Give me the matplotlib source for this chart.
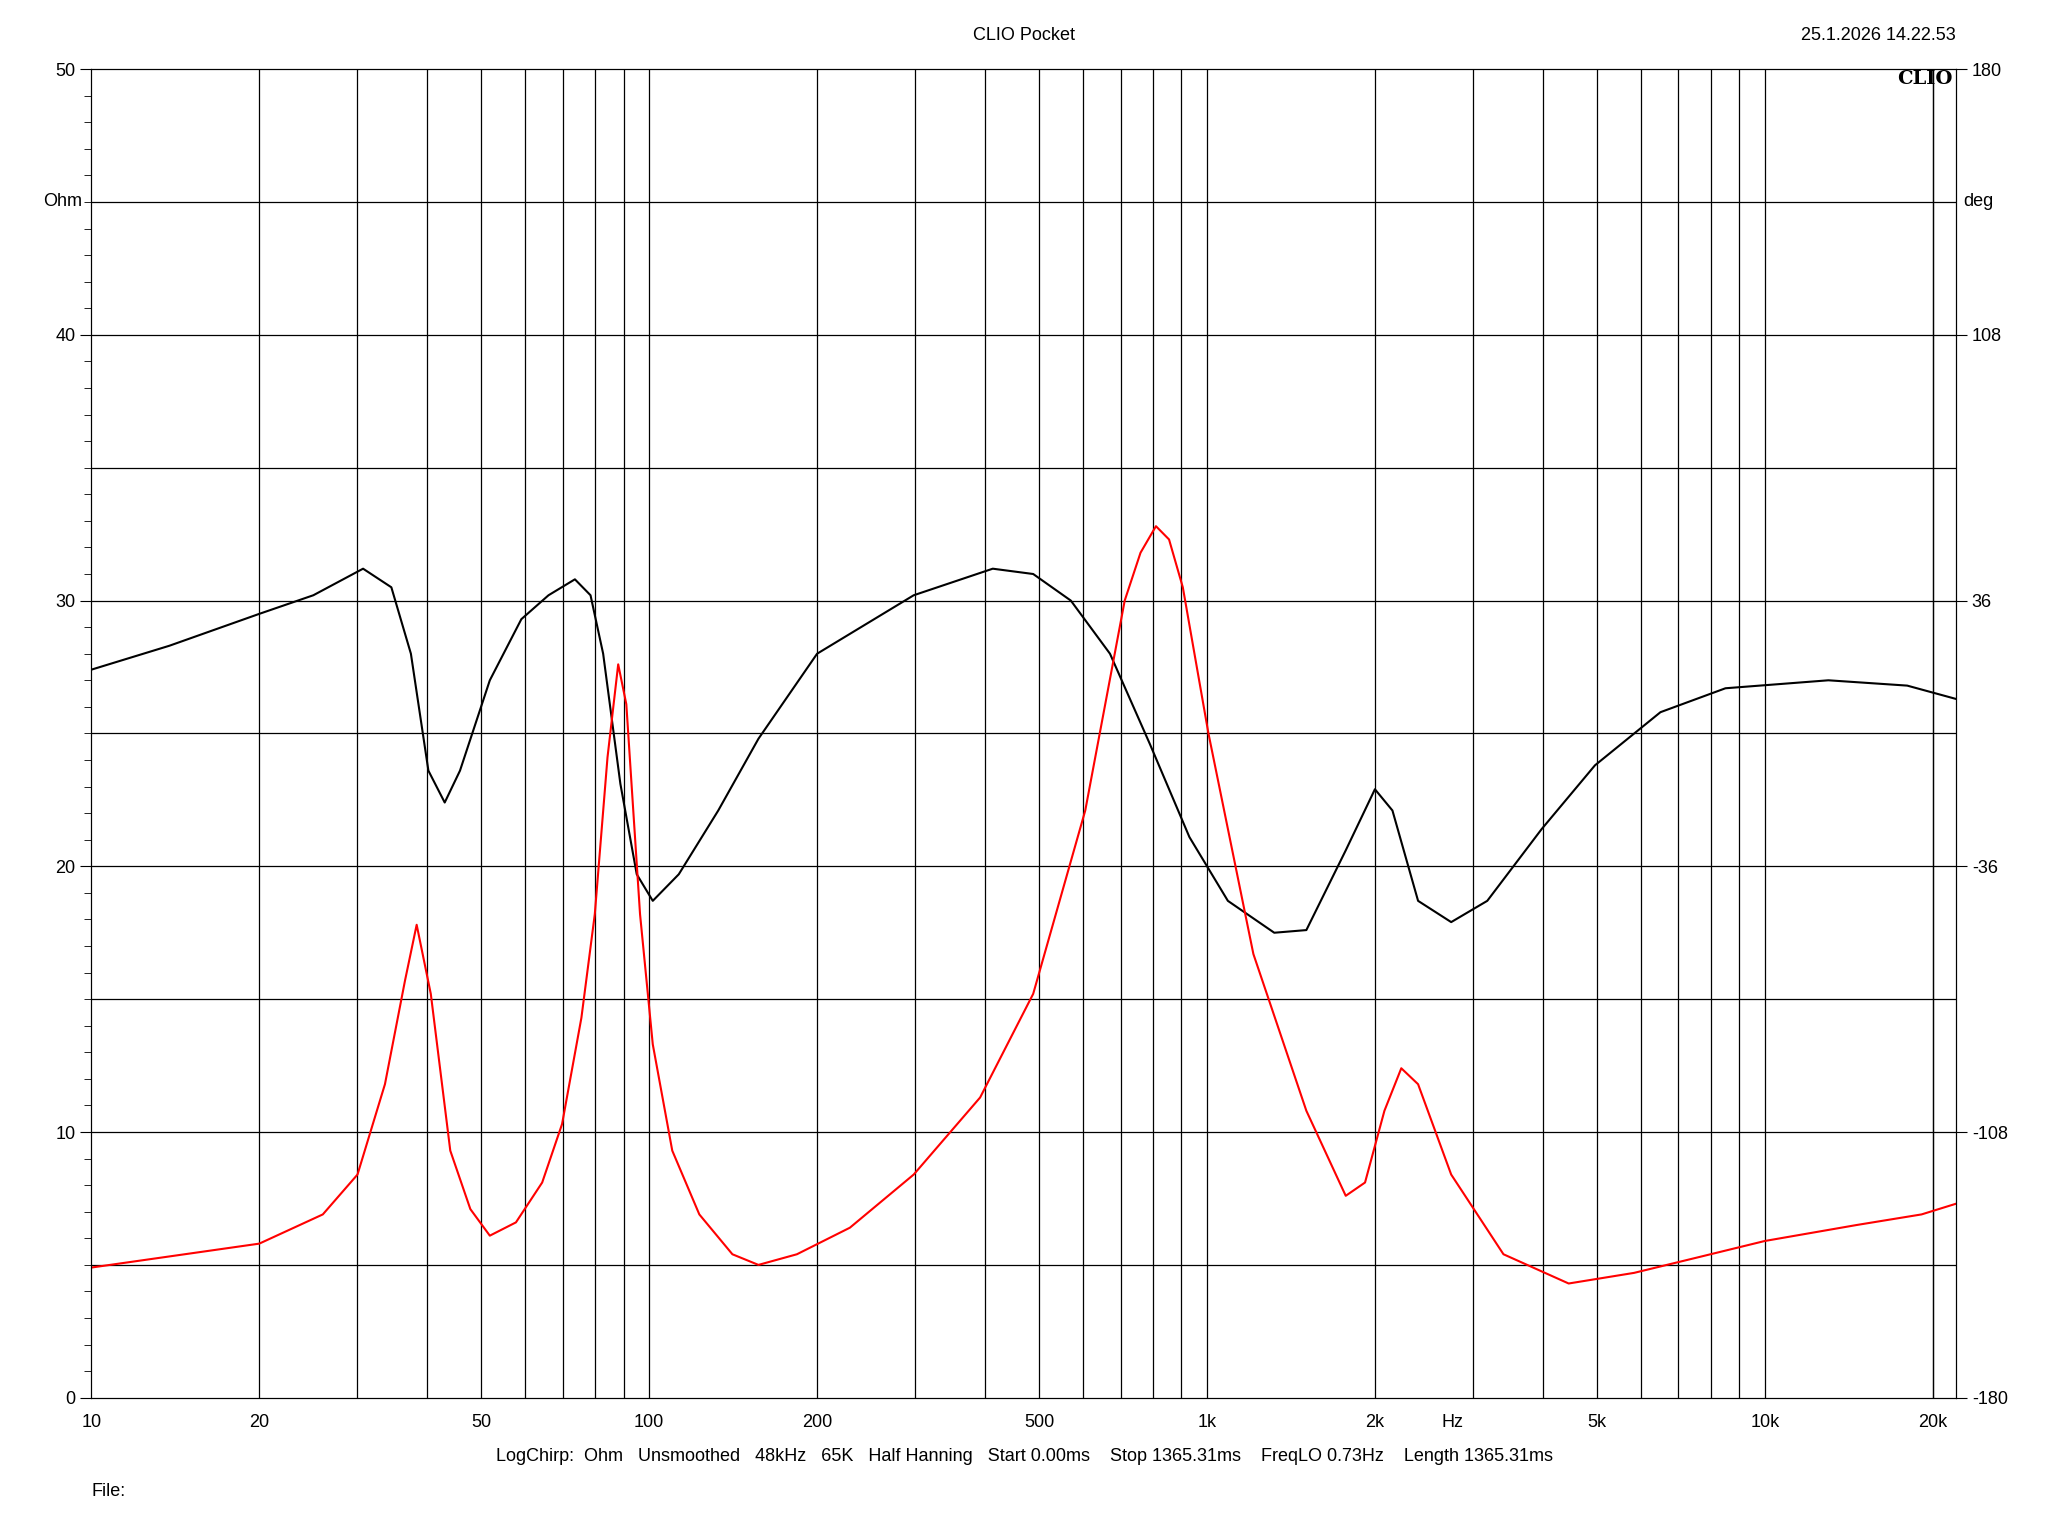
import matplotlib
matplotlib.use("Agg")
import matplotlib.pyplot as plt
from matplotlib.ticker import FixedLocator, MultipleLocator

plt.rcParams['font.family'] = ['Liberation Sans', 'DejaVu Sans']

red_f = [10,20,26,30,33.6,36.5,38.3,40.6,44,47.8,51.8,57.7,64.3,69.8,75.6,79.9,84.2,88,91,96.3,101.5,110,123,141,157,184,229,298,392,488,605,712,760,810,855,905,1006,1211,1507,1773,1920,2080,2230,2390,2740,3400,4450,5830,7640,10000,14600,19100,22000]
red_v = [4.9,5.8,6.9,8.4,11.8,15.7,17.8,15.2,9.3,7.1,6.1,6.6,8.1,10.3,14.3,18.2,24.1,27.6,26.1,18.2,13.3,9.3,6.9,5.4,5.0,5.4,6.4,8.4,11.3,15.2,22.1,30,31.8,32.8,32.3,30.5,25,16.7,10.8,7.6,8.1,10.8,12.4,11.8,8.4,5.4,4.3,4.7,5.3,5.9,6.5,6.9,7.3]
blk_f = [10,13.8,20,25,30.7,34.5,37.4,40.2,43,45.8,51.8,59,66,73.6,78.5,82.7,88.8,95,101.5,113,133,157,200,298,413,488,570,670,790,930,1090,1320,1507,1773,2000,2150,2390,2740,3180,3980,4960,6500,8500,13000,18000,22000]
blk_v = [27.4,28.3,29.5,30.2,31.2,30.5,28,23.6,22.4,23.6,27,29.3,30.2,30.8,30.2,28,23.1,19.7,18.7,19.7,22.1,24.8,28,30.2,31.2,31,30,28,24.6,21.1,18.7,17.5,17.6,20.6,22.9,22.1,18.7,17.9,18.7,21.4,23.8,25.8,26.7,27,26.8,26.3]
xtick_vals = [10,20,50,100,200,500,1000,2000,2750,5000,10000,20000]
xtick_labels = ["10","20","50","100","200","500","1k","2k","Hz","5k","10k","20k"]
ytick_vals = [0,10,20,30,40,50]
deg_labels = ["-180","-108","-36","36","108","180"]

fig = plt.figure(figsize=(20.48,15.36), dpi=100)
ax = fig.add_axes([0.0446,0.09,0.9104,0.865])
ax.set_xscale("log")
ax.set_xlim(10,22000)
ax.set_ylim(0,50)
grid_x = [m*10**e for e in range(1,5) for m in range(1,10)] + [20000]
for g in grid_x:
    if 10 < g < 22000:
        ax.axvline(g, color="black", lw=0.9)
for g in range(5,50,5):
    ax.axhline(g, color="black", lw=0.9)
ax.plot(blk_f, blk_v, color="black", lw=1.5)
ax.plot(red_f, red_v, color="red", lw=1.5)
ax.xaxis.set_major_locator(FixedLocator(xtick_vals))
ax.xaxis.set_minor_locator(FixedLocator([]))
ax.set_xticklabels(xtick_labels, fontsize=13)
ax.set_yticks(ytick_vals)
ax.set_yticklabels([str(v) for v in ytick_vals], fontsize=13)
ax.yaxis.set_minor_locator(MultipleLocator(1))
ax.tick_params(axis="y", which="major", length=8, direction="out")
ax.tick_params(axis="y", which="minor", length=5, direction="out", right=True)
ax.tick_params(axis="y", which="both", right=True)
ax.tick_params(axis="x", length=0, pad=12)
ax2 = ax.twinx()
ax2.set_ylim(-180,180)
ax2.set_yticks([-180,-108,-36,36,108,180])
ax2.set_yticklabels(deg_labels, fontsize=13)
ax2.tick_params(axis="y", length=8)
ax.text(-0.005, 45/50, "Ohm", transform=ax.transAxes, ha="right", va="center", fontsize=13)
ax.text(1.004, 45/50, "deg", transform=ax.transAxes, ha="left", va="center", fontsize=13)
ax.text(0.9985, 0.999, "CLIO", transform=ax.transAxes, ha="right", va="top", fontsize=14, fontweight="bold", family="DejaVu Serif")
fig.text(0.5, 0.977, "CLIO Pocket", ha="center", va="center", fontsize=13)
fig.text(0.955, 0.977, "25.1.2026 14.22.53", ha="right", va="center", fontsize=13)
fig.text(0.5, 0.0515, "LogChirp:  Ohm   Unsmoothed   48kHz   65K   Half Hanning   Start 0.00ms    Stop 1365.31ms    FreqLO 0.73Hz    Length 1365.31ms", ha="center", va="center", fontsize=13)
fig.text(0.0446, 0.029, "File:", ha="left", va="center", fontsize=13)
fig.savefig("out.png", dpi=100)
